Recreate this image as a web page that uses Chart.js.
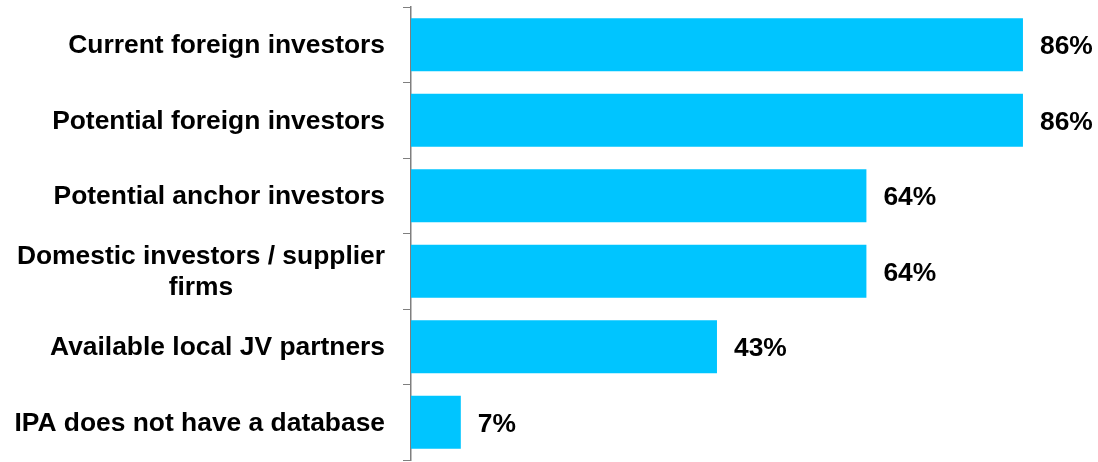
<!DOCTYPE html>
<html>
<head>
<meta charset="utf-8">
<script src="https://cdn.jsdelivr.net/npm/chart.js@4/dist/chart.umd.min.js"></script>
<style>
  html, body { margin: 0; padding: 0; background: #ffffff; }
  #wrap { width: 1098px; height: 462px; position: relative; }
</style>
</head>
<body>
<div id="wrap"><canvas id="chart"></canvas></div>
<script>
// Categories (multi-line entries are arrays of lines)
const categories = [
  'Current foreign investors',
  'Potential foreign investors',
  'Potential anchor investors',
  ['Domestic investors / supplier', 'firms'],
  'Available local JV partners',
  'IPA does not have a database'
];
// Share of respondents, percent
const shares = [86, 86, 64, 64, 43, 7];

const FONT = '"Liberation Sans", Arial, Helvetica, sans-serif';
const LABEL_FONT = 'bold 26.4px ' + FONT;
const BAR_COLOR = '#00C5FF';

// Category labels: right-aligned block, lines of a wrapped label centred within it
const categoryLabels = {
  id: 'categoryLabels',
  afterDraw(chart) {
    const ctx = chart.ctx;
    const y = chart.scales.y;
    const right = 385;
    const lineH = 31;
    ctx.save();
    ctx.font = LABEL_FONT;
    ctx.fillStyle = '#000000';
    ctx.textBaseline = 'middle';
    categories.forEach((lab, i) => {
      const lines = Array.isArray(lab) ? lab : [lab];
      const cy = y.getPixelForValue(i);
      const widths = lines.map(l => ctx.measureText(l).width);
      const maxW = Math.max(...widths);
      const cx = right - maxW / 2;
      ctx.textAlign = 'center';
      lines.forEach((l, k) => {
        const ly = cy + 1 + (k - (lines.length - 1) / 2) * lineH;
        ctx.fillText(l, cx, ly);
      });
    });
    ctx.restore();
  }
};

// Value labels after the end of each bar
const valueLabels = {
  id: 'valueLabels',
  afterDatasetsDraw(chart) {
    const ctx = chart.ctx;
    const meta = chart.getDatasetMeta(0);
    ctx.save();
    ctx.font = LABEL_FONT;
    ctx.fillStyle = '#000000';
    ctx.textAlign = 'left';
    ctx.textBaseline = 'middle';
    meta.data.forEach((bar, i) => {
      ctx.fillText(shares[i] + '%', bar.x + 17, bar.y + 2);
    });
    ctx.restore();
  }
};

new Chart(document.getElementById('chart'), {
  type: 'bar',
  data: {
    labels: categories,
    datasets: [{
      data: shares,
      backgroundColor: BAR_COLOR,
      borderWidth: 0,
      categoryPercentage: 1.0,
      barPercentage: 0.7
    }]
  },
  options: {
    indexAxis: 'y',
    responsive: true,
    maintainAspectRatio: false,
    animation: false,
    events: [],
    layout: { padding: { left: 403, right: 11, top: 7, bottom: 2 } },
    plugins: {
      legend: { display: false },
      tooltip: { enabled: false },
      title: { display: false }
    },
    scales: {
      x: {
        display: false,
        min: 0,
        max: 95
      },
      y: {
        offset: true,
        grid: {
          offset: true,
          drawOnChartArea: false,
          drawTicks: true,
          tickLength: 8,
          color: '#7f7f7f',
          lineWidth: 1
        },
        border: { display: true, color: '#7f7f7f', width: 1.5 },
        ticks: { display: false }
      }
    }
  },
  plugins: [categoryLabels, valueLabels]
});
</script>
</body>
</html>
